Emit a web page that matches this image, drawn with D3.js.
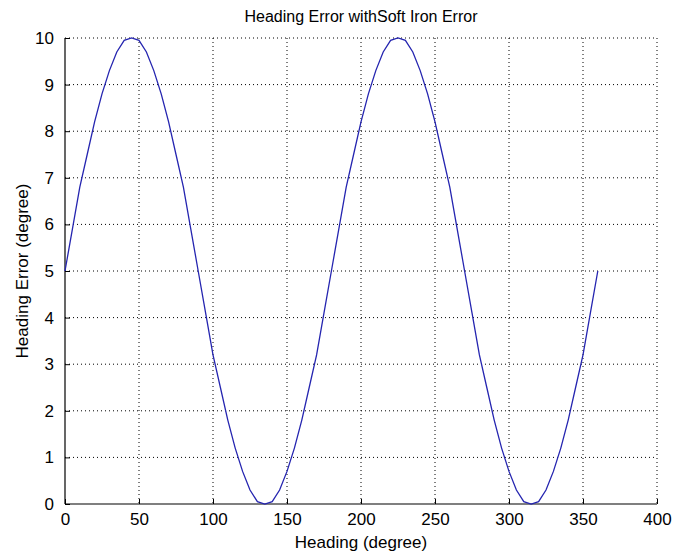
<!DOCTYPE html>
<html>
<head>
<meta charset="utf-8">
<script src="https://cdn.jsdelivr.net/npm/d3@7"></script>
<style>
  body { margin: 0; background: #fff; }
  text { font-family: Arial, "Liberation Sans", sans-serif; fill: #000; }
  .grid line { stroke: #000; stroke-dasharray: 1,3; stroke-width: 1; }
</style>
</head>
<body>
<svg id="chart" width="674" height="556"></svg>
<script>
const chartSize = { width: 674, height: 556 };
const margin = { left: 65, right: 17, top: 38, bottom: 52 };
const width = chartSize.width - margin.left - margin.right;
const height = chartSize.height - margin.top - margin.bottom;

// heading (deg) and error (deg)
const headings = [0, 5, 10, 15, 20, 25, 30, 35, 40, 45, 50, 55, 60, 65, 70, 75, 80, 85,
  90, 95, 100, 105, 110, 115, 120, 125, 130, 135, 140, 145, 150, 155, 160, 165, 170, 175,
  180, 185, 190, 195, 200, 205, 210, 215, 220, 225, 230, 235, 240, 245, 250, 255, 260, 265,
  270, 275, 280, 285, 290, 295, 300, 305, 310, 315, 320, 325, 330, 335, 340, 345, 350, 355, 360];
const errors = [5.0, 5.9, 6.8, 7.5, 8.2, 8.8, 9.3, 9.7, 9.95, 10.0, 9.95, 9.7, 9.3, 8.8, 8.2, 7.5, 6.8, 5.9,
  5.0, 4.1, 3.2, 2.5, 1.8, 1.2, 0.7, 0.3, 0.05, 0.0, 0.05, 0.3, 0.7, 1.2, 1.8, 2.5, 3.2, 4.1,
  5.0, 5.9, 6.8, 7.5, 8.2, 8.8, 9.3, 9.7, 9.95, 10.0, 9.95, 9.7, 9.3, 8.8, 8.2, 7.5, 6.8, 5.9,
  5.0, 4.1, 3.2, 2.5, 1.8, 1.2, 0.7, 0.3, 0.05, 0.0, 0.05, 0.3, 0.7, 1.2, 1.8, 2.5, 3.2, 4.1, 5.0];
const xTicks = [0, 50, 100, 150, 200, 250, 300, 350, 400];
const yTicks = [0, 1, 2, 3, 4, 5, 6, 7, 8, 9, 10];

const svg = d3.select("#chart");
const g = svg.append("g").attr("transform", `translate(${margin.left},${margin.top})`);

const x = d3.scaleLinear().domain([0, 400]).range([0, width]);
const y = d3.scaleLinear().domain([0, 10]).range([height, 0]);

// dotted grid
g.append("g").attr("class", "grid")
  .selectAll("line").data(xTicks.slice(1)).enter().append("line")
  .attr("x1", d => x(d)).attr("x2", d => x(d))
  .attr("y1", 0).attr("y2", height);
g.append("g").attr("class", "grid")
  .selectAll("line").data(yTicks.slice(1)).enter().append("line")
  .attr("x1", 0).attr("x2", width)
  .attr("y1", d => y(d)).attr("y2", d => y(d));

const xAxis = d3.axisBottom(x).tickValues(xTicks).tickSize(-5).tickPadding(9);
const yAxis = d3.axisLeft(y).tickValues(yTicks).tickSize(-5).tickPadding(11);

const gx = g.append("g").attr("transform", `translate(0,${height})`).call(xAxis);
const gy = g.append("g").call(yAxis);
[gx, gy].forEach(a => {
  a.select(".domain").attr("stroke", "#000").attr("stroke-width", 1.2)
    .attr("d", a === gx ? `M0,0H${width}` : `M0,0V${height}`);
  a.selectAll(".tick line").attr("stroke", "#000");
  a.selectAll("text").style("font-size", "17px").style("font-family", "Arial, 'Liberation Sans', sans-serif");
});

const line = d3.line()
  .x((d, i) => x(headings[i]))
  .y(d => y(d));

g.append("path")
  .attr("d", line(errors))
  .attr("fill", "none")
  .attr("stroke", "#2525b0")
  .attr("stroke-width", 1.3);

svg.append("text")
  .attr("x", margin.left + width / 2).attr("y", 22)
  .attr("text-anchor", "middle").style("font-size", "16px")
  .text("Heading Error withSoft Iron Error");

svg.append("text")
  .attr("x", margin.left + width / 2).attr("y", 548)
  .attr("text-anchor", "middle").style("font-size", "17px")
  .text("Heading (degree)");

svg.append("text")
  .attr("transform", `translate(28,${margin.top + height / 2}) rotate(-90)`)
  .attr("text-anchor", "middle").style("font-size", "17px")
  .text("Heading Error (degree)");
</script>
</body>
</html>
